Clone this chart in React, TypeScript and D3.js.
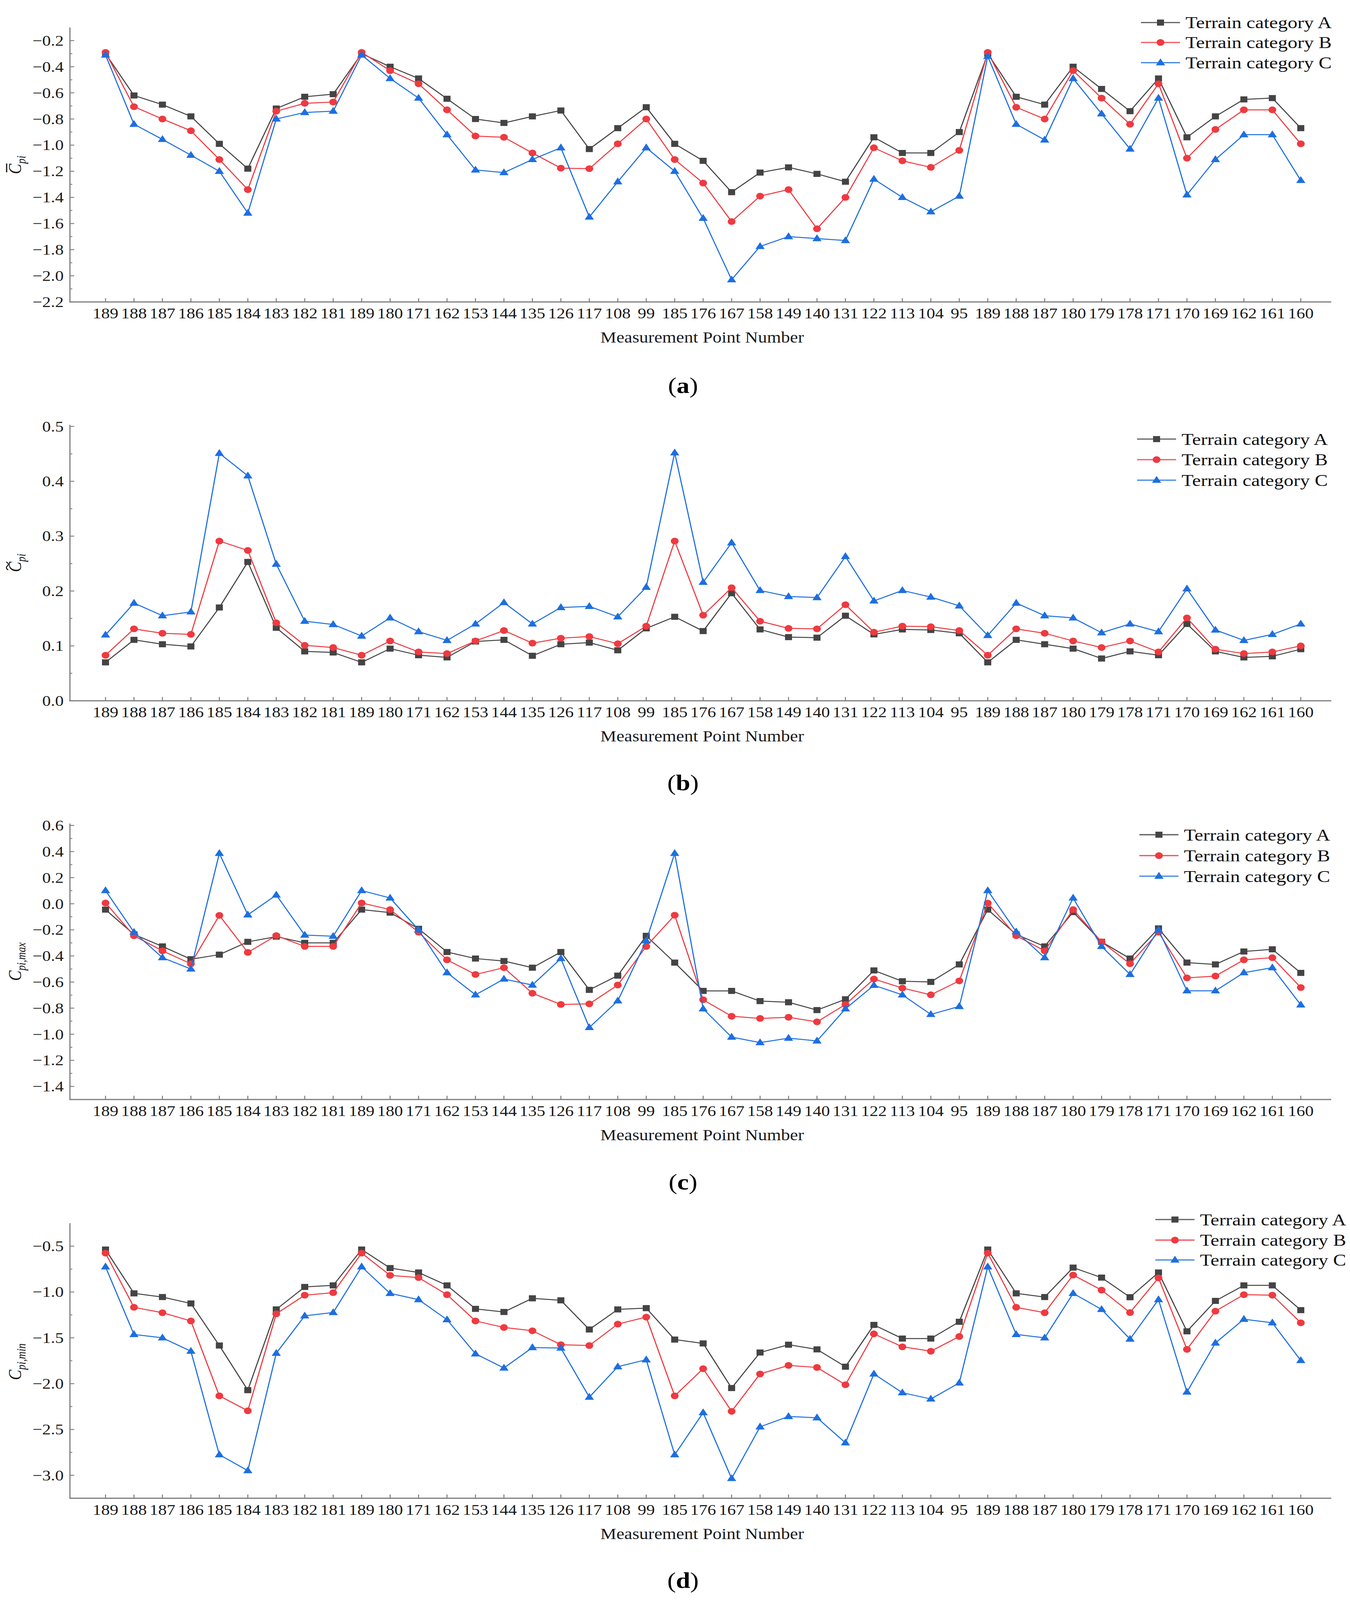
import React from 'react';
import * as d3 from 'd3';

// ---------------- DATA ----------------
const categories = [
  '189', '188', '187', '186', '185', '184', '183', '182', '181',
  '189', '180', '171', '162', '153', '144', '135', '126', '117', '108', '99',
  '185', '176', '167', '158', '149', '140', '131', '122', '113', '104', '95',
  '189', '188', '187', '180', '179', '178', '171', '170', '169', '162', '161', '160',
];

const seriesNames = ['Terrain category A', 'Terrain category B', 'Terrain category C'];

// (a) mean pressure coefficient
const meanA = [-0.30, -0.62, -0.69, -0.78, -0.99, -1.18, -0.72, -0.63, -0.61,
  -0.30, -0.40, -0.49, -0.645, -0.80, -0.83, -0.78, -0.735, -1.03, -0.87, -0.71,
  -0.99, -1.12, -1.36, -1.21, -1.17, -1.22, -1.28, -0.94, -1.06, -1.06, -0.90,
  -0.30, -0.63, -0.69, -0.40, -0.57, -0.74, -0.49, -0.94, -0.78, -0.65, -0.64, -0.87];
const meanB = [-0.29, -0.706, -0.80, -0.89, -1.11, -1.34, -0.74, -0.68, -0.67,
  -0.29, -0.43, -0.53, -0.73, -0.93, -0.94, -1.06, -1.176, -1.18, -0.99, -0.80,
  -1.11, -1.29, -1.585, -1.39, -1.34, -1.64, -1.40, -1.02, -1.12, -1.17, -1.04,
  -0.29, -0.71, -0.80, -0.43, -0.64, -0.84, -0.53, -1.10, -0.88, -0.73, -0.73, -0.99];
const meanC = [-0.31, -0.84, -0.956, -1.077, -1.20, -1.52, -0.80, -0.75, -0.74,
  -0.31, -0.49, -0.64, -0.92, -1.19, -1.21, -1.11, -1.02, -1.55, -1.28, -1.02,
  -1.20, -1.56, -2.03, -1.775, -1.70, -1.715, -1.73, -1.26, -1.40, -1.51, -1.39,
  -0.32, -0.84, -0.96, -0.49, -0.76, -1.03, -0.64, -1.38, -1.11, -0.92, -0.92, -1.27];

// (b) fluctuating pressure coefficient
const rmsA = [0.070, 0.111, 0.103, 0.099, 0.170, 0.253, 0.133, 0.090, 0.088,
  0.070, 0.095, 0.083, 0.079, 0.108, 0.111, 0.082, 0.103, 0.106, 0.092, 0.132,
  0.153, 0.127, 0.196, 0.130, 0.116, 0.115, 0.155, 0.121, 0.130, 0.129, 0.123,
  0.070, 0.111, 0.103, 0.095, 0.077, 0.090, 0.083, 0.140, 0.090, 0.079, 0.081, 0.094];
const rmsB = [0.083, 0.131, 0.123, 0.121, 0.291, 0.274, 0.142, 0.101, 0.097,
  0.083, 0.109, 0.089, 0.086, 0.109, 0.128, 0.105, 0.114, 0.117, 0.104, 0.136,
  0.291, 0.156, 0.206, 0.145, 0.132, 0.131, 0.175, 0.125, 0.136, 0.135, 0.128,
  0.083, 0.131, 0.123, 0.109, 0.097, 0.109, 0.089, 0.151, 0.094, 0.086, 0.089, 0.100];
const rmsC = [0.120, 0.178, 0.155, 0.162, 0.451, 0.410, 0.249, 0.145, 0.139,
  0.118, 0.151, 0.126, 0.110, 0.140, 0.179, 0.140, 0.170, 0.172, 0.153, 0.207,
  0.452, 0.216, 0.288, 0.201, 0.190, 0.188, 0.263, 0.182, 0.201, 0.189, 0.173,
  0.119, 0.178, 0.155, 0.151, 0.124, 0.140, 0.126, 0.204, 0.129, 0.110, 0.121, 0.140];

// (c) maximum pressure coefficient
const maxA = [-0.045, -0.235, -0.327, -0.425, -0.39, -0.292, -0.252, -0.30, -0.30,
  -0.045, -0.068, -0.192, -0.37, -0.42, -0.439, -0.49, -0.37, -0.66, -0.551, -0.246,
  -0.451, -0.668, -0.668, -0.746, -0.755, -0.815, -0.732, -0.511, -0.594, -0.599, -0.465,
  -0.045, -0.235, -0.327, -0.064, -0.292, -0.42, -0.189, -0.451, -0.465, -0.366, -0.349, -0.53];
const maxB = [0.006, -0.245, -0.361, -0.46, -0.089, -0.373, -0.244, -0.327, -0.327,
  0.006, -0.045, -0.218, -0.43, -0.542, -0.49, -0.686, -0.772, -0.767, -0.623, -0.327,
  -0.088, -0.736, -0.862, -0.879, -0.87, -0.905, -0.772, -0.577, -0.646, -0.698, -0.591,
  0.005, -0.245, -0.361, -0.045, -0.292, -0.46, -0.218, -0.568, -0.554, -0.43, -0.413, -0.642];
const maxC = [0.101, -0.218, -0.413, -0.50, 0.386, -0.085, 0.067, -0.24, -0.249,
  0.101, 0.044, -0.20, -0.528, -0.698, -0.577, -0.623, -0.42, -0.948, -0.744, -0.284,
  0.386, -0.805, -1.022, -1.064, -1.03, -1.051, -0.805, -0.625, -0.698, -0.848, -0.787,
  0.101, -0.215, -0.413, 0.044, -0.327, -0.542, -0.20, -0.667, -0.667, -0.528, -0.49, -0.775];

// (d) minimum pressure coefficient
const minA = [-0.537, -1.015, -1.055, -1.125, -1.584, -2.071, -1.19, -0.945, -0.928,
  -0.537, -0.739, -0.787, -0.928, -1.184, -1.218, -1.069, -1.091, -1.409, -1.19, -1.176,
  -1.519, -1.561, -2.048, -1.66, -1.575, -1.626, -1.815, -1.359, -1.508, -1.508, -1.325,
  -0.537, -1.015, -1.055, -0.734, -0.843, -1.057, -0.787, -1.429, -1.097, -0.928, -0.928, -1.198];
const minB = [-0.576, -1.167, -1.226, -1.316, -2.133, -2.296, -1.238, -1.035, -1.007,
  -0.576, -0.818, -0.843, -1.029, -1.316, -1.387, -1.423, -1.575, -1.584, -1.35, -1.274,
  -2.133, -1.837, -2.302, -1.894, -1.801, -1.823, -2.012, -1.457, -1.598, -1.646, -1.485,
  -0.576, -1.167, -1.226, -0.815, -0.979, -1.224, -0.846, -1.626, -1.209, -1.029, -1.035, -1.336];
const minC = [-0.725, -1.463, -1.50, -1.646, -2.775, -2.949, -1.668, -1.26, -1.224,
  -0.725, -1.015, -1.083, -1.302, -1.674, -1.829, -1.606, -1.612, -2.147, -1.815, -1.739,
  -2.775, -2.316, -3.034, -2.471, -2.358, -2.372, -2.645, -1.894, -2.099, -2.167, -1.992,
  -0.725, -1.463, -1.50, -1.015, -1.19, -1.514, -1.083, -2.091, -1.556, -1.297, -1.336, -1.747];

// tick values
const ticksA = [-2.2, -2.0, -1.8, -1.6, -1.4, -1.2, -1.0, -0.8, -0.6, -0.4, -0.2];
const minorA = [-2.1, -1.9, -1.7, -1.5, -1.3, -1.1, -0.9, -0.7, -0.5, -0.3];
const ticksB = [0.0, 0.1, 0.2, 0.3, 0.4, 0.5];
const minorB = [0.05, 0.15, 0.25, 0.35, 0.45];
const ticksC = [-1.4, -1.2, -1.0, -0.8, -0.6, -0.4, -0.2, 0.0, 0.2, 0.4, 0.6];
const minorC = [-1.3, -1.1, -0.9, -0.7, -0.5, -0.3, -0.1, 0.1, 0.3, 0.5];
const ticksD = [-3.0, -2.5, -2.0, -1.5, -1.0, -0.5];
const minorD = [-2.75, -2.25, -1.75, -1.25, -0.75];

const xTitle = 'Measurement Point Number';
const captions = ['a', 'b', 'c', 'd'];

// ---------------- STYLE / LAYOUT ----------------
const W = 3455;
const H = 4748;
const FONT = '"Liberation Serif", "Times New Roman", Times, serif';
const AXIS = '#7d7d7d';
const COLORS = ['#444444', '#ee3a40', '#1d6fe0'];
const SHAPES = ['square', 'circle', 'triangle'];

const X_LEFT = 179;
const X_RIGHT = 3407;
const xScale = d3.scaleLinear().domain([-1.25, 43.07]).range([X_LEFT, X_RIGHT]);

type PanelCfg = {
  series: number[][];
  domain: [number, number];
  bottom: number;
  top: number;
  ticks: number[];
  minor: number[];
  decimals: number;
  label: { sub: string; accent: 'bar' | 'tilde' | 'none' };
  legendX: number;
  legendRows: number[];
  captionY: number;
  caption: string;
};

const panels: PanelCfg[] = [
  {
    series: [meanA, meanB, meanC], domain: [-2.2, -0.1], bottom: 896, top: 81.7,
    ticks: ticksA, minor: minorA, decimals: 1, label: { sub: 'pi', accent: 'bar' },
    legendX: 2920, legendRows: [67, 126, 186], captionY: 1166, caption: captions[0],
  },
  {
    series: [rmsA, rmsB, rmsC], domain: [0, 0.503], bottom: 2079.5, top: 1260.5,
    ticks: ticksB, minor: minorB, decimals: 1, label: { sub: 'pi', accent: 'tilde' },
    legendX: 2910, legendRows: [1303, 1364, 1425], captionY: 2345, caption: captions[1],
  },
  {
    series: [maxA, maxB, maxC], domain: [-1.5, 0.615], bottom: 3262.7, top: 2443.7,
    ticks: ticksC, minor: minorC, decimals: 1, label: { sub: 'pi,max', accent: 'none' },
    legendX: 2916, legendRows: [2477, 2539, 2600], captionY: 3530, caption: captions[2],
  },
  {
    series: [minA, minB, minC], domain: [-3.25, -0.25], bottom: 4446, top: 3630,
    ticks: ticksD, minor: minorD, decimals: 1, label: { sub: 'pi,min', accent: 'none' },
    legendX: 2957, legendRows: [3619, 3680, 3739], captionY: 4712, caption: captions[3],
  },
];

const fmt = (v: number, d: number) => {
  const s = Math.abs(v).toFixed(d);
  return v < -1e-9 ? '\u2212' + s : s;
};

const triPath = d3.symbol(d3.symbolTriangle, 240)() as string;

function Marker({ shape, x, y, color }: { shape: string; x: number; y: number; color: string }) {
  if (shape === 'square') {
    return <rect x={x - 9} y={y - 9} width={18} height={18} fill={color} />;
  }
  if (shape === 'circle') {
    return <circle cx={x} cy={y} r={10} fill={color} />;
  }
  return <path d={triPath} transform={`translate(${x},${y + 1})`} fill={color} />;
}

function YLabel({ cy, sub, accent }: { cy: number; sub: string; accent: string }) {
  const cSize = 46;
  const subSize = 31;
  const cW = cSize * 0.667;
  const subW = subSize * (sub === 'pi' ? 0.8 : 2.72);
  const total = cW + subW;
  const cStart = -total / 2;
  const cMid = cStart + cW / 2 + 3;
  return (
    <g transform={`translate(54,${cy}) rotate(-90)`}>
      <text x={cStart} y={0} fontFamily={FONT} fontStyle="italic" fill="#111">
        <tspan fontSize={cSize}>C</tspan>
        <tspan fontSize={subSize} dy={11}>{sub}</tspan>
      </text>
      {accent === 'bar' && (
        <line x1={cMid - 13} x2={cMid + 13} y1={-37} y2={-37} stroke="#111" strokeWidth={3} />
      )}
      {accent === 'tilde' && (
        <path
          d={`M${cMid - 12},${-33} q6,-8 12,-2 t12,-3`}
          fill="none"
          stroke="#111"
          strokeWidth={2.6}
        />
      )}
    </g>
  );
}

function PanelView({ p }: { p: PanelCfg }) {
  const y = d3.scaleLinear().domain(p.domain).range([p.bottom, p.top]);
  const line = d3
    .line<number>()
    .x((_, i) => xScale(i))
    .y((v) => y(v));
  return (
    <g>
      {p.series.map((vals, s) => (
        <g key={s}>
          <path d={line(vals) as string} fill="none" stroke={COLORS[s]} strokeWidth={2.9} strokeLinejoin="round" />
          {vals.map((v, i) => (
            <Marker key={i} shape={SHAPES[s]} x={xScale(i)} y={y(v)} color={COLORS[s]} />
          ))}
        </g>
      ))}
      <line x1={X_LEFT} x2={X_LEFT} y1={p.top} y2={p.bottom + 1.5} stroke={AXIS} strokeWidth={3} />
      <line x1={X_LEFT - 1.5} x2={X_RIGHT} y1={p.bottom} y2={p.bottom} stroke={AXIS} strokeWidth={3.4} />
      {p.ticks.map((t) => (
        <g key={'t' + t}>
          <line x1={X_LEFT} x2={X_LEFT + 11} y1={y(t)} y2={y(t)} stroke={AXIS} strokeWidth={2.6} />
          <text x={163} y={y(t) + 15} textAnchor="end" fontFamily={FONT} fontSize={44} fill="#1a1a1a">
            {fmt(t, p.decimals)}
          </text>
        </g>
      ))}
      {p.minor.map((t) => (
        <line key={'m' + t} x1={X_LEFT} x2={X_LEFT + 6} y1={y(t)} y2={y(t)} stroke={AXIS} strokeWidth={2.4} />
      ))}
      {categories.map((c, i) => (
        <g key={'x' + i}>
          <line x1={xScale(i)} x2={xScale(i)} y1={p.bottom} y2={p.bottom - 11} stroke={AXIS} strokeWidth={2.6} />
          <text x={xScale(i)} y={p.bottom + 49} textAnchor="middle" fontFamily={FONT} fontSize={44} fill="#1a1a1a">
            {c}
          </text>
        </g>
      ))}
      <text x={1797} y={p.bottom + 121} textAnchor="middle" fontFamily={FONT} fontSize={46} fill="#1a1a1a">
        {xTitle}
      </text>
      <YLabel cy={(p.top + p.bottom) / 2} sub={p.label.sub} accent={p.label.accent} />
      {seriesNames.map((n, s) => {
        const ry = p.legendRows[s];
        return (
          <g key={'l' + s}>
            <line x1={p.legendX} x2={p.legendX + 100} y1={ry} y2={ry} stroke={COLORS[s]} strokeWidth={3.6} opacity={0.85} />
            <Marker shape={SHAPES[s]} x={p.legendX + 50} y={ry} color={COLORS[s]} />
            <text x={p.legendX + 114} y={ry + 17} fontFamily={FONT} fontSize={50} fill="#111">
              {n}
            </text>
          </g>
        );
      })}
      <text x={1748} y={p.captionY} textAnchor="middle" fontFamily={FONT} fontSize={66} fill="#000">
        (<tspan fontWeight="bold">{p.caption}</tspan>)
      </text>
    </g>
  );
}

export default function App() {
  // The browser viewport may be shorter than the figure; fit the whole
  // figure into the visible area so nothing gets cut off.
  const vh = typeof window !== 'undefined' && window.innerHeight ? window.innerHeight : H;
  const vw = typeof window !== 'undefined' && window.innerWidth ? window.innerWidth : W;
  const outH = Math.min(H, vh);
  const outW = Math.min(W, vw);
  return (
    <svg
      width={outW}
      height={outH}
      viewBox={`0 0 ${W} ${H}`}
      preserveAspectRatio="none"
      style={{ position: 'absolute', left: 0, top: 0, display: 'block', background: '#fff' }}
    >
      <rect x={0} y={0} width={W} height={H} fill="#fff" />
      {panels.map((p, i) => (
        <PanelView key={i} p={p} />
      ))}
    </svg>
  );
}
